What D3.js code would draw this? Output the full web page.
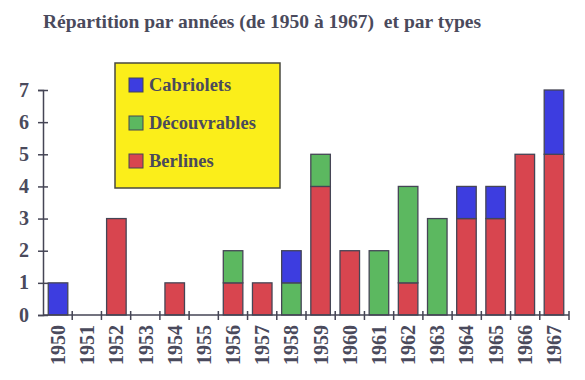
<!DOCTYPE html>
<html>
<head>
<meta charset="utf-8">
<script src="https://cdn.jsdelivr.net/npm/d3@7"></script>
<style>
  body { margin: 0; background: #fff; }
  svg { display: block; }
</style>
</head>
<body>
<div id="chart"></div>
<script>
const width = 585;
const height = 380;
const FONT = '"Liberation Serif", "Times New Roman", serif';
const TEXT_COLOR = '#4a4a5c';

// Years on the x axis
const years = ['1950', '1951', '1952', '1953', '1954', '1955', '1956', '1957', '1958',
               '1959', '1960', '1961', '1962', '1963', '1964', '1965', '1966', '1967'];

// Counts per type, stacked bottom to top: Berlines, Découvrables, Cabriolets
const berlines     = [0, 0, 3, 0, 1, 0, 1, 1, 0, 4, 2, 0, 1, 0, 3, 3, 5, 5];
const decouvrables = [0, 0, 0, 0, 0, 0, 1, 0, 1, 1, 0, 2, 3, 3, 0, 0, 0, 0];
const cabriolets   = [1, 0, 0, 0, 0, 0, 0, 0, 1, 0, 0, 0, 0, 0, 1, 1, 0, 2];

const yTicks = [0, 1, 2, 3, 4, 5, 6, 7];

// Legend order as shown (top to bottom)
const types = [
    { key: 'cabriolets', label: 'Cabriolets', color: '#3d3de0' },
    { key: 'decouvrables', label: 'Découvrables', color: '#5cb860' },
    { key: 'berlines', label: 'Berlines', color: '#d8454f' }
];

const margin = { left: 43, right: 16, top: 90, bottom: 65 };

const rows = years.map((y, i) => ({
    year: y,
    berlines: berlines[i],
    decouvrables: decouvrables[i],
    cabriolets: cabriolets[i]
}));

const stack = d3.stack().keys(['berlines', 'decouvrables', 'cabriolets']);
const series = stack(rows);

const x = d3.scaleBand()
    .domain(years)
    .range([margin.left, width - margin.right])
    .paddingInner(0.33)
    .paddingOuter(0.18);

const y = d3.scaleLinear()
    .domain([0, 7])
    .range([height - margin.bottom, margin.top]);

const svg = d3.select('#chart').append('svg')
    .attr('width', width)
    .attr('height', height);

function styleText(sel, size) {
    sel.style('font-family', FONT)
        .style('font-weight', 'bold')
        .style('font-size', size + 'px')
        .style('fill', TEXT_COLOR);
}

// Title
svg.append('text')
    .attr('x', 262)
    .attr('y', 28)
    .attr('text-anchor', 'middle')
    .call(styleText, 19.5)
    .style('white-space', 'pre')
    .text('Répartition par années (de 1950 à 1967)  et par types');

const colorOf = {};
types.forEach(t => { colorOf[t.key] = t.color; });

// Bars
svg.append('g').selectAll('g')
    .data(series)
    .enter()
    .append('g')
    .attr('fill', d => colorOf[d.key])
    .selectAll('rect')
    .data(d => d.filter(s => s[1] > s[0]))
    .enter()
    .append('rect')
    .attr('x', d => x(d.data.year))
    .attr('y', d => y(d[1]))
    .attr('width', x.bandwidth())
    .attr('height', d => y(d[0]) - y(d[1]))
    .attr('stroke', '#454555')
    .attr('stroke-width', 1.3);

// Y axis
const yAxis = svg.append('g')
    .attr('transform', `translate(${margin.left},0)`)
    .call(d3.axisLeft(y).tickValues(yTicks).tickSize(5).tickPadding(8).tickFormat(d3.format('d')));
yAxis.select('.domain').attr('stroke', '#454555').attr('stroke-width', 1.5);
yAxis.selectAll('.tick line').attr('stroke', '#454555').attr('stroke-width', 1.5).attr('x2', 5).attr('x1', -5);
yAxis.selectAll('.tick text')
    .call(styleText, 20)
    .attr('x', -14)
    .attr('dy', '0.3em');

// X axis, ticks at band boundaries
const xAxisG = svg.append('g')
    .attr('transform', `translate(0,${y(0)})`);
xAxisG.append('line')
    .attr('x1', margin.left)
    .attr('x2', width - margin.right)
    .attr('stroke', '#454555')
    .attr('stroke-width', 1.5);
const boundaries = years.map((yr, i) => margin.left + (i + 1) * (width - margin.left - margin.right) / years.length);
xAxisG.selectAll('line.tk')
    .data(boundaries)
    .enter()
    .append('line')
    .attr('class', 'tk')
    .attr('x1', d => d)
    .attr('x2', d => d)
    .attr('y1', -4)
    .attr('y2', 5)
    .attr('stroke', '#454555')
    .attr('stroke-width', 1.5);

xAxisG.selectAll('text')
    .data(years)
    .enter()
    .append('text')
    .attr('transform', d => `translate(${x(d) + x.bandwidth() / 2 + 7},10) rotate(-90)`)
    .attr('text-anchor', 'end')
    .call(styleText, 20)
    .text(d => d);

// Legend
const legend = svg.append('g');
legend.append('rect')
    .attr('x', 115)
    .attr('y', 63)
    .attr('width', 165)
    .attr('height', 125)
    .attr('fill', '#fbee1a')
    .attr('stroke', '#4a4a40')
    .attr('stroke-width', 1.5);

const items = legend.selectAll('g.item')
    .data(types)
    .enter()
    .append('g')
    .attr('class', 'item')
    .attr('transform', (d, i) => `translate(129,${78 + i * 38})`);

items.append('rect')
    .attr('width', 14)
    .attr('height', 14)
    .attr('fill', d => d.color)
    .attr('stroke', '#454555')
    .attr('stroke-width', 1);

items.append('text')
    .attr('x', 20)
    .attr('y', 13)
    .call(styleText, 18.5)
    .text(d => d.label);
</script>
</body>
</html>
